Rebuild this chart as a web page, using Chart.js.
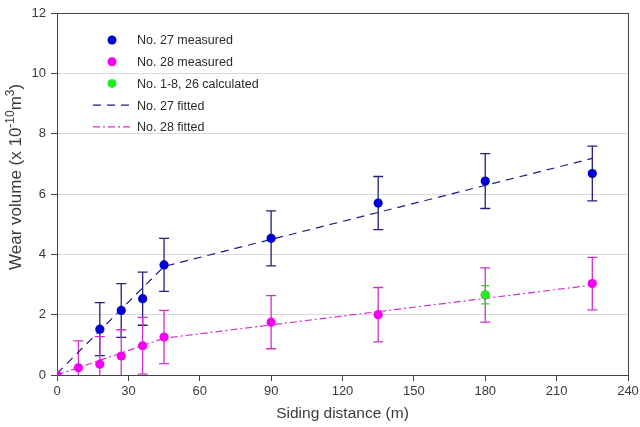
<!DOCTYPE html>
<html>
<head>
<meta charset="utf-8">
<script src="https://cdn.jsdelivr.net/npm/chart.js@4.4.1/dist/chart.umd.min.js"></script>
<style>
  html, body { margin: 0; padding: 0; background: #fff; }
</style>
</head>
<body>
<canvas id="wearChart" width="640" height="427"></canvas>
<script>
// Data
const xTicks = [0, 30, 60, 90, 120, 150, 180, 210, 240];
const yTicks = [0, 2, 4, 6, 8, 10, 12];

// No. 27 measured
const dist27 = [18, 27, 36, 45, 90, 135, 180, 225];
const wear27 = [1.52, 2.14, 2.53, 3.65, 4.53, 5.70, 6.43, 6.68];
const err27 = [0.88, 0.89, 0.88, 0.88, 0.91, 0.88, 0.91, 0.91];

// No. 28 measured
const dist28 = [0, 9, 18, 27, 36, 45, 90, 135, 180, 225];
const wear28 = [0, 0.24, 0.36, 0.63, 0.97, 1.26, 1.75, 2.00, 2.65, 3.03];
const err28 = [0, 0.89, 0.91, 0.87, 0.94, 0.88, 0.88, 0.90, 0.90, 0.87];

// No. 1-8, 26 calculated
const distCalc = [180];
const wearCalc = [2.66];
const errCalc = [0.30];

// fitted lines
const fitX = [0, 45, 225];
const fit27 = [0.05, 3.6, 7.18];
const fit28 = [0, 1.22, 2.98];

const pts = (xs, ys) => xs.map((x, i) => ({ x: x, y: ys[i] }));

// error bars drawn under the points
const errorBars = {
  id: 'errorBars',
  beforeDatasetsDraw(chart) {
    const ctx = chart.ctx;
    const xs = chart.scales.x, ys = chart.scales.y;
    const area = chart.chartArea;
    ctx.save();
    ctx.beginPath();
    ctx.rect(area.left, area.top, area.right - area.left, area.bottom - area.top);
    ctx.clip();
    chart.data.datasets.forEach(ds => {
      if (!ds.errors) return;
      ctx.strokeStyle = ds.errorColor;
      ctx.lineWidth = 1.3;
      ds.data.forEach((p, i) => {
        const e = ds.errors[i];
        if (!e) return;
        const px = xs.getPixelForValue(p.x);
        const top = ys.getPixelForValue(p.y + e);
        const bot = ys.getPixelForValue(p.y - e);
        const cap = ds.capHalf;
        ctx.beginPath();
        ctx.moveTo(px, top); ctx.lineTo(px, bot);
        ctx.moveTo(px - cap, top); ctx.lineTo(px + cap, top);
        ctx.moveTo(px - cap, bot); ctx.lineTo(px + cap, bot);
        ctx.stroke();
      });
    });
    ctx.restore();
  }
};

// legend inside the plot, top left
const boxLegend = {
  id: 'boxLegend',
  afterDraw(chart) {
    const ctx = chart.ctx;
    ctx.save();
    ctx.font = '12.5px "Liberation Sans", Arial, sans-serif';
    ctx.textBaseline = 'middle';
    chart.data.datasets.forEach((ds, i) => {
      const y = 40 + i * 21.7;
      if (ds.showLine) {
        ctx.strokeStyle = ds.borderColor;
        ctx.lineWidth = 1.2;
        ctx.setLineDash(ds.borderDash);
        ctx.beginPath();
        ctx.moveTo(93, y); ctx.lineTo(133, y);
        ctx.stroke();
        ctx.setLineDash([]);
      } else {
        ctx.fillStyle = ds.backgroundColor;
        ctx.beginPath();
        ctx.arc(112, y, 4.5, 0, Math.PI * 2);
        ctx.fill();
      }
      ctx.fillStyle = '#2a2a2a';
      ctx.fillText(ds.label, 137, y + 1);
    });
    ctx.restore();
  }
};

// y axis title with superscripts
const yTitle = {
  id: 'yTitle',
  afterDraw(chart) {
    const ctx = chart.ctx;
    const parts = [
      ['Wear volume (x 10', 17, 0],
      ['-10', 12, -7],
      ['m', 17, 0],
      ['3', 12, -7],
      [')', 17, 0]
    ];
    ctx.save();
    ctx.translate(21, 270);
    ctx.rotate(-Math.PI / 2);
    ctx.fillStyle = '#3a3a3a';
    ctx.textBaseline = 'alphabetic';
    let pos = 0;
    parts.forEach(([t, size, dy]) => {
      ctx.font = size + 'px "Liberation Sans", Arial, sans-serif';
      ctx.fillText(t, pos, dy);
      pos += ctx.measureText(t).width;
    });
    ctx.restore();
  }
};

const ctx = document.getElementById('wearChart').getContext('2d');
const wearChart = new Chart(ctx, {
  type: 'scatter',
  data: {
    datasets: [
      {
        label: 'No. 27 measured',
        data: pts(dist27, wear27),
        errors: err27,
        errorColor: '#22227a',
        capHalf: 5,
        backgroundColor: '#0000d4',
        pointRadius: 4.6,
        pointBorderWidth: 0,
        order: 2
      },
      {
        label: 'No. 28 measured',
        data: pts(dist28, wear28),
        errors: err28,
        errorColor: '#d030d0',
        capHalf: 5,
        backgroundColor: '#f500f5',
        pointRadius: 4.6,
        pointBorderWidth: 0,
        order: 1
      },
      {
        label: 'No. 1-8, 26 calculated',
        data: pts(distCalc, wearCalc),
        errors: errCalc,
        errorColor: '#30d030',
        capHalf: 4,
        backgroundColor: '#22ee22',
        pointRadius: 4.6,
        pointBorderWidth: 0,
        order: 0
      },
      {
        label: 'No. 27 fitted',
        data: pts(fitX, fit27),
        showLine: true,
        borderColor: '#1c1c8a',
        borderWidth: 1.2,
        borderDash: [8, 6],
        pointRadius: 0,
        order: 4
      },
      {
        label: 'No. 28 fitted',
        data: pts(fitX, fit28),
        showLine: true,
        borderColor: '#cc33cc',
        borderWidth: 1.2,
        borderDash: [7, 3, 2, 3],
        pointRadius: 0,
        order: 3
      }
    ]
  },
  options: {
    responsive: false,
    animation: false,
    layout: { padding: { top: 13, right: 12, left: 0, bottom: 0 } },
    plugins: {
      legend: { display: false },
      tooltip: { enabled: false }
    },
    scales: {
      x: {
        type: 'linear',
        min: xTicks[0],
        max: xTicks[xTicks.length - 1],
        afterBuildTicks: s => { s.ticks = xTicks.map(v => ({ value: v })); },
        afterFit: s => { s.height = 52; s.paddingLeft = 0; s.paddingRight = 0; },
        ticks: {
          color: '#3a3a3a',
          font: { family: '"Liberation Sans", Arial, sans-serif', size: 13 },
          padding: 3
        },
        grid: {
          color: c => (c.tick && c.tick.value === 240 ? '#444' : 'rgba(0,0,0,0)'),
          tickColor: '#444',
          tickLength: 6
        },
        border: { color: '#444', width: 1 },
        title: {
          display: true,
          text: 'Siding distance (m)',
          color: '#3a3a3a',
          font: { family: '"Liberation Sans", Arial, sans-serif', size: 15.5 },
          padding: { top: 2, bottom: 4 }
        }
      },
      y: {
        type: 'linear',
        min: yTicks[0],
        max: yTicks[yTicks.length - 1],
        afterBuildTicks: s => { s.ticks = yTicks.map(v => ({ value: v })); },
        afterFit: s => { s.width = 57; },
        ticks: {
          color: '#3a3a3a',
          font: { family: '"Liberation Sans", Arial, sans-serif', size: 13 },
          padding: 5
        },
        grid: {
          color: c => {
            if (!c.tick) return 'rgba(0,0,0,0)';
            if (c.tick.value === 12) return '#444';
            if (c.tick.value === 0) return 'rgba(0,0,0,0)';
            return '#d9d9d9';
          },
          tickColor: '#444',
          tickLength: 6
        },
        border: { color: '#444', width: 1 }
      }
    }
  },
  plugins: [errorBars, boxLegend, yTitle]
});
</script>
</body>
</html>
